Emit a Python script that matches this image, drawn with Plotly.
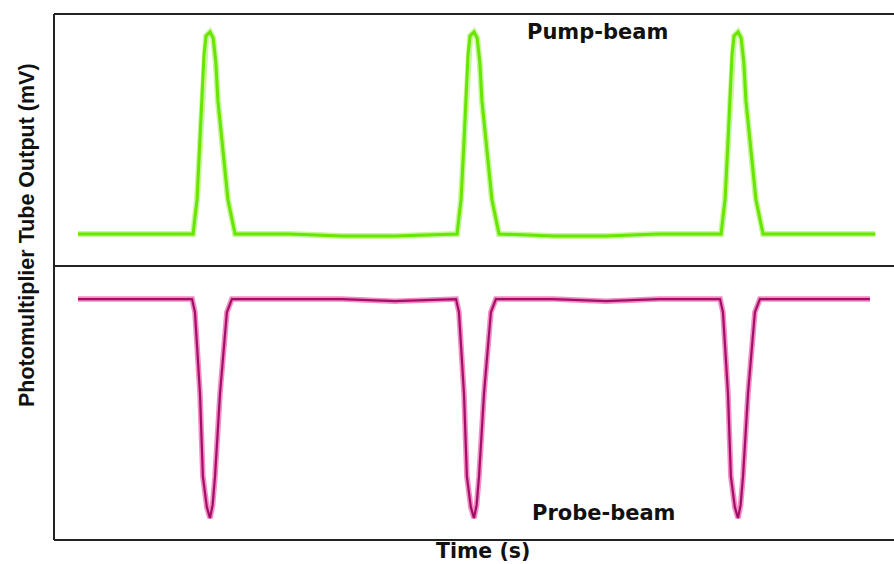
import plotly.graph_objects as go

# ---- data (time in s, output normalised mV) ----
pump_t = [0.00, 0.20, 0.40, 0.436, 0.451, 0.462, 0.470, 0.477, 0.485, 0.500, 0.512, 0.522,
          0.530, 0.550, 0.568, 0.595,
          0.80, 1.00, 1.20, 1.436, 1.451, 1.462, 1.470, 1.477, 1.485, 1.500, 1.512, 1.522,
          1.530, 1.550, 1.568, 1.595,
          1.80, 2.00, 2.20, 2.436, 2.451, 2.462, 2.470, 2.477, 2.485, 2.500, 2.512, 2.522,
          2.530, 2.550, 2.568, 2.595,
          2.80, 3.02]
pump_v = [0.00, 0.00, 0.00, 0.00, 0.17, 0.45, 0.66, 0.88, 0.98, 1.00, 0.97, 0.85,
          0.66, 0.40, 0.17, 0.00,
          0.00, -0.01, -0.01, 0.00, 0.17, 0.45, 0.66, 0.88, 0.98, 1.00, 0.97, 0.85,
          0.66, 0.40, 0.17, 0.00,
          -0.01, -0.01, 0.00, 0.00, 0.17, 0.45, 0.66, 0.88, 0.98, 1.00, 0.97, 0.85,
          0.66, 0.40, 0.17, 0.00,
          0.00, 0.00]

probe_t = [0.00, 0.20, 0.432, 0.443, 0.462, 0.473, 0.488, 0.500, 0.510, 0.519, 0.538, 0.564, 0.583,
           0.80, 1.00, 1.20, 1.432, 1.443, 1.462, 1.473, 1.488, 1.500, 1.510, 1.519, 1.538, 1.564, 1.583,
           1.80, 2.00, 2.20, 2.432, 2.443, 2.462, 2.473, 2.488, 2.500, 2.510, 2.519, 2.538, 2.564, 2.583,
           2.80, 3.00]
probe_v = [1.00, 1.00, 1.00, 0.94, 0.57, 0.19, 0.05, 0.00, 0.06, 0.19, 0.57, 0.94, 1.00,
           1.00, 1.00, 0.99, 1.00, 0.94, 0.57, 0.19, 0.05, 0.00, 0.06, 0.19, 0.57, 0.94, 1.00,
           1.00, 0.99, 1.00, 1.00, 0.94, 0.57, 0.19, 0.05, 0.00, 0.06, 0.19, 0.57, 0.94, 1.00,
           1.00, 1.00]

fig = go.Figure()
fig.add_trace(go.Scatter(x=pump_t, y=pump_v, mode="lines", xaxis="x", yaxis="y2",
                         line=dict(color="#c8f59a", width=6), hoverinfo="skip"))
fig.add_trace(go.Scatter(x=pump_t, y=pump_v, mode="lines", xaxis="x", yaxis="y2",
                         line=dict(color="#66e600", width=3), hoverinfo="skip"))
fig.add_trace(go.Scatter(x=probe_t, y=probe_v, mode="lines", xaxis="x", yaxis="y",
                         line=dict(color="#f58ac4", width=5.5), hoverinfo="skip"))
fig.add_trace(go.Scatter(x=probe_t, y=probe_v, mode="lines", xaxis="x", yaxis="y",
                         line=dict(color="#a01068", width=2.2), hoverinfo="skip"))

split = 0.521
xr = [(54 - 78) / 264.0, (894 - 78) / 264.0]
fig.update_layout(
    width=894, height=564,
    margin=dict(l=54, r=0, t=14, b=24),
    paper_bgcolor="white", plot_bgcolor="white",
    showlegend=False,
    xaxis=dict(range=xr, showgrid=False, zeroline=False, showticklabels=False, ticks="",
               showline=False, anchor="y"),
    yaxis=dict(domain=[0, split], range=[-0.100, 1.151], showgrid=False, zeroline=False,
               showticklabels=False, ticks="", showline=False),
    yaxis2=dict(domain=[split, 1], range=[-0.158, 1.089], showgrid=False, zeroline=False,
                showticklabels=False, ticks="", showline=False, anchor="x"),
    shapes=[
        dict(type="line", xref="paper", yref="paper", x0=0, x1=1.02, y0=1, y1=1,
             line=dict(color="#222", width=2)),
        dict(type="line", xref="paper", yref="paper", x0=0, x1=1.02, y0=split, y1=split,
             line=dict(color="#222", width=2)),
        dict(type="line", xref="paper", yref="paper", x0=0, x1=1.02, y0=0, y1=0,
             line=dict(color="#222", width=2)),
        dict(type="line", xref="paper", yref="paper", x0=0, x1=0, y0=0, y1=1,
             line=dict(color="#222", width=2)),
    ],
    annotations=[
        dict(text="<b>Pump-beam</b>", x=597, y=32, showarrow=False,
             font=dict(family="DejaVu Sans", size=21, color="#111"),
             xanchor="center", yanchor="middle"),
        dict(text="<b>Probe-beam</b>", x=604, y=513, showarrow=False,
             font=dict(family="DejaVu Sans", size=21, color="#111"),
             xanchor="center", yanchor="middle"),
        dict(text="<b>Time (s)</b>", x=483, y=551, showarrow=False,
             font=dict(family="DejaVu Sans", size=20.5, color="#111"),
             xanchor="center", yanchor="middle"),
        dict(text="<b>Photomultiplier Tube Output (mV)</b>", x=27, y=235, showarrow=False,
             textangle=-90,
             font=dict(family="Liberation Sans", size=21.5, color="#111"),
             xanchor="center", yanchor="middle"),
    ],
)

# convert pixel-positioned annotations to paper coordinates
W, H = 894, 564
L, R, T, B = 54, 0, 14, 24
pw, ph = W - L - R, H - T - B
new_ann = []
for a in fig.layout.annotations:
    px, py = a.x, a.y
    a.update(xref="paper", yref="paper", x=(px - L) / pw, y=1 - (py - T) / ph)
    new_ann.append(a)
fig.layout.annotations = new_ann

fig.write_html("out.html")
